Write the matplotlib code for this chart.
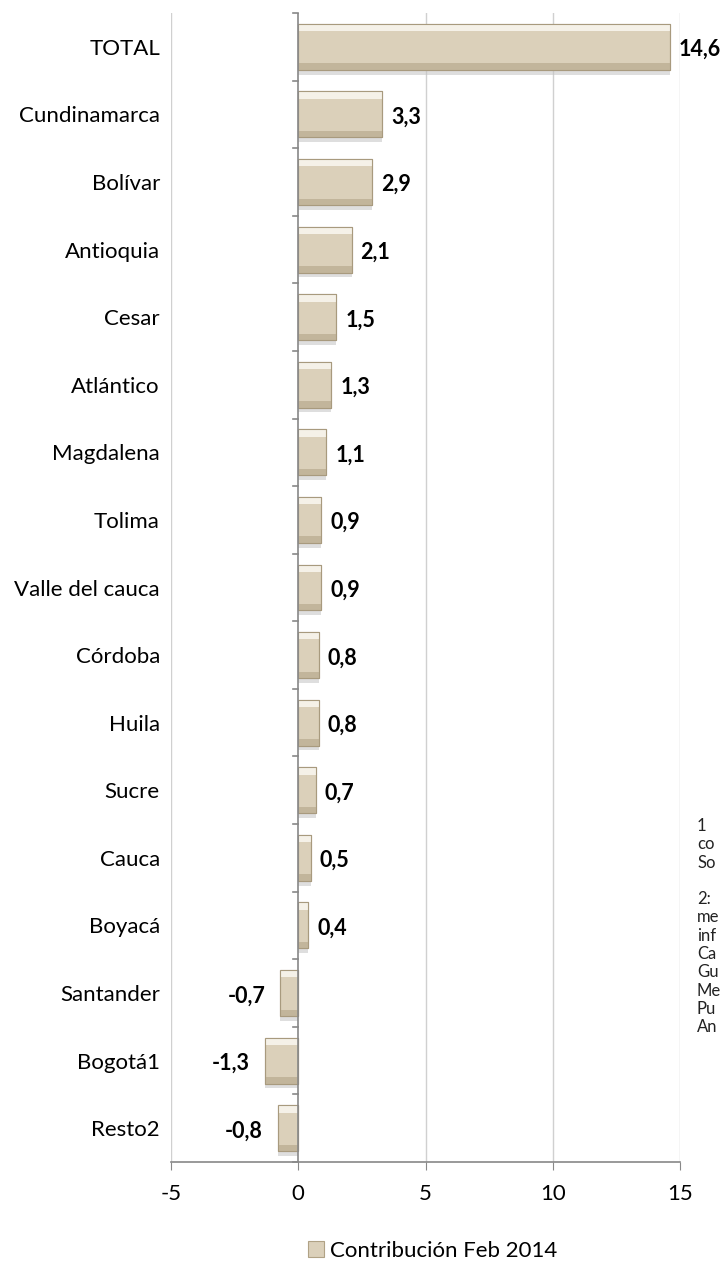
import matplotlib.pyplot as plt
from matplotlib.patches import Rectangle

plt.rcParams['font.family'] = ['Lato', 'DejaVu Sans']

departamentos = ['TOTAL', 'Cundinamarca', 'Bolívar', 'Antioquia', 'Cesar', 'Atlántico',
                 'Magdalena', 'Tolima', 'Valle del cauca', 'Córdoba', 'Huila', 'Sucre',
                 'Cauca', 'Boyacá', 'Santander', 'Bogotá1', 'Resto2']
contribucion = [14.6, 3.3, 2.9, 2.1, 1.5, 1.3, 1.1, 0.9, 0.9, 0.8, 0.8, 0.7,
                0.5, 0.4, -0.7, -1.3, -0.8]
xticks = [-5, 0, 5, 10, 15]
serie = 'Contribución Feb 2014'

# notas al margen derecho (cortadas en la imagen original)
notas = ['1', 'co', 'So', '', '2:', 'me', 'inf', 'Ca', 'Gu', 'Me', 'Pu', 'An']

fig = plt.figure(figsize=(7.26, 12.62), dpi=100)
ax = fig.add_axes([171 / 726, 1 - 1162 / 1262, 509 / 726, 1149 / 1262])

y = list(range(len(departamentos)))
h = 0.68
face = '#dbd0ba'

# sombra
ax.barh([v + 0.07 for v in y], contribucion, height=h, left=0, color='#c4c4c4',
        alpha=0.55, zorder=2)
bars = ax.barh(y, contribucion, height=h, color=face, edgecolor='#b0a285',
               linewidth=0.8, zorder=3, label=serie)
# bisel
for b in bars:
    x0, y0, w, hh = b.get_x(), b.get_y(), b.get_width(), b.get_height()
    ax.add_patch(Rectangle((x0, y0), w, hh * 0.16, color='#f5f1e8', lw=0, zorder=4))
    ax.add_patch(Rectangle((x0, y0 + hh * 0.86), w, hh * 0.14, color='#c2b59b',
                           lw=0, zorder=4))
    ax.add_patch(Rectangle((x0, y0), w, hh, fill=False, ec='#a89a7e', lw=0.8,
                           zorder=4))

for yi, v in zip(y, contribucion):
    txt = f'{v:.1f}'.replace('.', ',')
    if v >= 0:
        ax.text(v + 0.35, yi + 0.04, txt, ha='left', va='center', fontsize=15.5,
                fontweight='bold', zorder=5)
    else:
        ax.text(v - 0.6, yi + 0.04, txt, ha='right', va='center', fontsize=15.5,
                fontweight='bold', zorder=5)

ax.set_xlim(-5, 15)
ax.set_ylim(len(departamentos) - 0.5, -0.5)
ax.set_xticks(xticks)
ax.set_xticklabels([str(t) for t in xticks], fontsize=16)
ax.set_yticks(y)
ax.set_yticklabels(departamentos, fontsize=16)
ax.tick_params(axis='y', length=0, pad=8)
ax.tick_params(axis='x', length=6, color='#888888', pad=10)

for t in xticks:
    if t != 0:
        ax.axvline(t, color='#d0d0d0', lw=1, zorder=0)
ax.axvline(0, color='#888888', lw=1.2, zorder=4)
for yb in [v - 0.5 for v in y] + [len(y) - 0.5]:
    ax.plot([-0.22, 0], [yb, yb], color='#888888', lw=1.2, zorder=4,
            clip_on=False)

for s in ['top', 'right', 'left']:
    ax.spines[s].set_visible(False)
ax.spines['bottom'].set_color('#888888')
ax.spines['bottom'].set_linewidth(1.2)

fig.legend(handles=[bars], labels=[serie], loc='center',
           bbox_to_anchor=(433 / 726, 1 - 1251 / 1262), frameon=False,
           fontsize=16, handlelength=0.7, handleheight=0.7,
           handletextpad=0.3)

for i, linea in enumerate(notas):
    fig.text(697 / 726, 1 - (826 + i * 18.3) / 1262, linea, fontsize=12,
             va='center', ha='left', color='#222222')

fig.savefig('out.png', dpi=100)
